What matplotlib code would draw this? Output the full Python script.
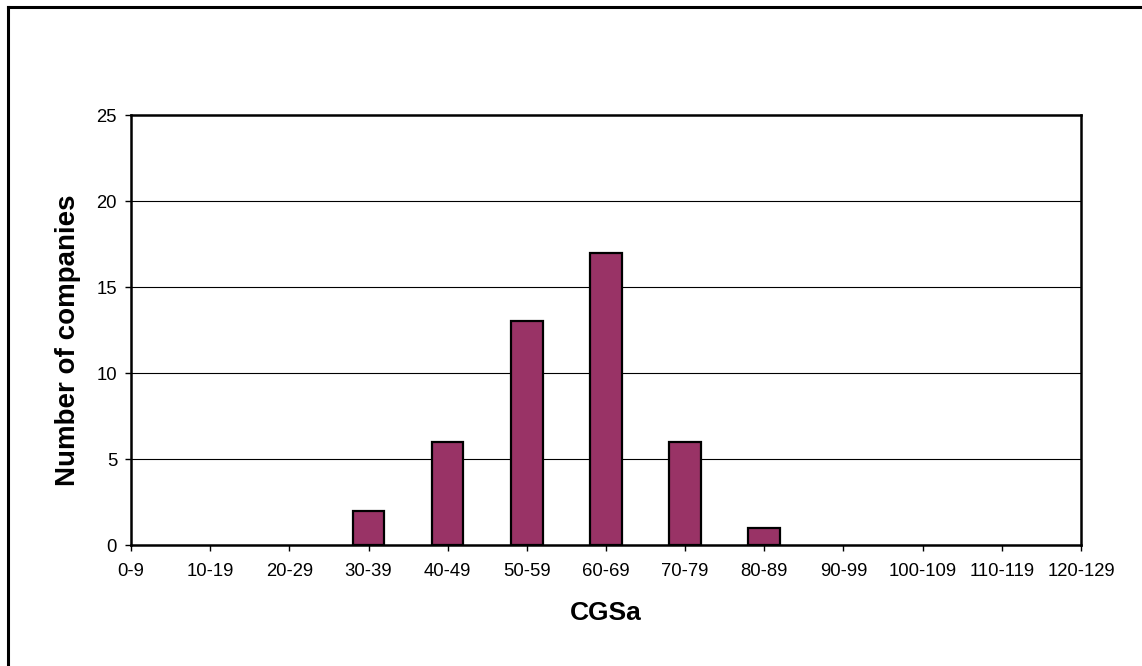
import matplotlib
matplotlib.use("Agg")
import matplotlib.pyplot as plt
from matplotlib.lines import Line2D

categories = ["0-9", "10-19", "20-29", "30-39", "40-49", "50-59", "60-69",
              "70-79", "80-89", "90-99", "100-109", "110-119", "120-129"]
counts = [0, 0, 0, 2, 6, 13, 17, 6, 1, 0, 0, 0, 0]
y_ticks = [0, 5, 10, 15, 20, 25]

plt.rcParams['font.family'] = ['Liberation Sans', 'DejaVu Sans']

W, H = 1142, 666
fig = plt.figure(figsize=(W / 100, H / 100), dpi=100)
fig.patch.set_facecolor("white")

# outer frame (top and left edges visible)
fig.add_artist(Line2D([8 / W, 1.0], [1 - 7 / H, 1 - 7 / H], color="black", lw=2.2,
                      transform=fig.transFigure))
fig.add_artist(Line2D([8 / W, 8 / W], [0.0, 1 - 7 / H], color="black", lw=2.2,
                      transform=fig.transFigure))

left, right, top, bottom = 131, 1081, 115, 545
ax = fig.add_axes([left / W, 1 - bottom / H, (right - left) / W, (bottom - top) / H])

x = list(range(len(categories)))
nonzero_x = [i for i, c in zip(x, counts) if c > 0]
nonzero_c = [c for c in counts if c > 0]
ax.bar(nonzero_x, nonzero_c, width=0.4, color="#993366", edgecolor="black", linewidth=1.6, zorder=3)

ax.set_xlim(0, len(categories) - 1)
ax.set_ylim(0, 25)
ax.set_yticks(y_ticks)
ax.set_xticks(x)
ax.set_xticklabels(categories)
ax.tick_params(axis="both", labelsize=13.3, direction="out", length=4, width=1, colors="black")
ax.tick_params(axis="x", pad=9)
ax.tick_params(axis="y", pad=6)

for yv in y_ticks[1:-1]:
    ax.axhline(yv, color="black", lw=0.8, zorder=1)

for s in ax.spines.values():
    s.set_linewidth(1.8)
    s.set_color("black")

fig.text(606 / W, 1 - 613 / H, "CGSa", fontsize=19, fontweight="bold",
         ha="center", va="center")
fig.text(68 / W, 1 - 340 / H, "Number of companies", fontsize=20, fontweight="bold",
         ha="center", va="center", rotation=90)

fig.savefig("out.png", dpi=100)
